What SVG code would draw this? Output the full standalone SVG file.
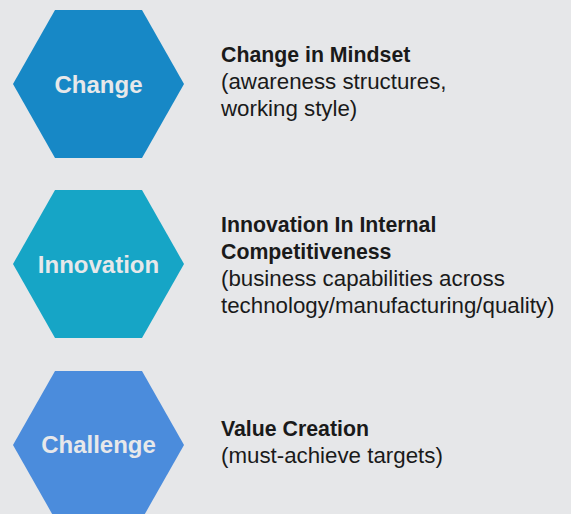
<svg xmlns="http://www.w3.org/2000/svg" width="571" height="514" viewBox="0 0 571 514">
  <style>
    .hex-label { font-family: "Liberation Sans", Arial, sans-serif; font-weight: bold; font-size: 24px; fill: #e7e8ea; text-anchor: middle; }
    .title { font-family: "Liberation Sans", Arial, sans-serif; font-weight: bold; font-size: 21.3px; fill: #1a1a1a; }
    .desc { font-family: "Liberation Sans", Arial, sans-serif; font-size: 22.3px; fill: #1a1a1a; }
  </style>
  <defs>
    <polygon id="hex" points="55,0 142,0 184,74 142,148 55,148 13,74"/>
  </defs>
  <rect width="571" height="514" fill="#e6e7e9"/>

  <g id="change">
    <use href="#hex" x="0" y="10" fill="#1788c6"/>
    <text class="hex-label" x="98.5" y="93">Change</text>
    <text class="title" x="221" y="62">Change in Mindset</text>
    <text class="desc" x="221" y="89">(awareness structures,</text>
    <text class="desc" x="221" y="116">working style)</text>
  </g>

  <g id="innovation">
    <use href="#hex" x="0" y="190" fill="#16a5c6"/>
    <text class="hex-label" x="98.5" y="273">Innovation</text>
    <text class="title" x="221" y="232">Innovation In Internal</text>
    <text class="title" x="221" y="259">Competitiveness</text>
    <text class="desc" x="221" y="286">(business capabilities across</text>
    <text class="desc" x="221" y="313">technology/manufacturing/quality)</text>
  </g>

  <g id="challenge">
    <use href="#hex" x="0" y="371" fill="#4b8cdc"/>
    <text class="hex-label" x="98.5" y="453">Challenge</text>
    <text class="title" x="221" y="436">Value Creation</text>
    <text class="desc" x="221" y="463">(must-achieve targets)</text>
  </g>

  <g id="connectors"/>
</svg>
